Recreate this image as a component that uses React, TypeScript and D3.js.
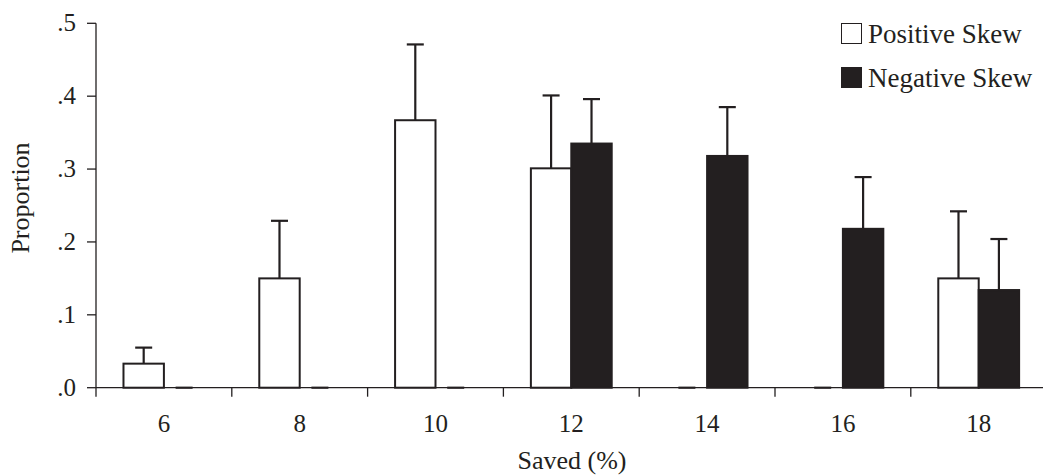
import React, { useEffect, useRef } from "react";
import * as d3 from "d3";

const categories = ["6", "8", "10", "12", "14", "16", "18"];
const seriesNames = ["Positive Skew", "Negative Skew"];
const positiveSkew = [0.033, 0.15, 0.367, 0.301, 0, 0, 0.15];
const positiveErr = [0.022, 0.079, 0.104, 0.1, 0, 0, 0.092];
const negativeSkew = [0, 0, 0, 0.335, 0.318, 0.218, 0.134];
const negativeErr = [0, 0, 0, 0.061, 0.067, 0.071, 0.07];
const yTicks = [0, 0.1, 0.2, 0.3, 0.4, 0.5];

const ink = "#231f20";
const font = "'Liberation Serif', 'Times New Roman', serif";

const App = () => {
  const svgRef = useRef<SVGSVGElement>(null);

  useEffect(() => {
    const svg = d3.select(svgRef.current);

    const left = 96;
    const bandW = 135.8;

    // scales
    const x0 = d3
      .scaleBand()
      .domain(categories)
      .range([left, left + bandW * categories.length])
      .padding(0);

    const x1 = d3
      .scaleBand()
      .domain(seriesNames)
      .range([0, x0.bandwidth()])
      .paddingInner(0)
      .paddingOuter(0.68);

    const y = d3.scaleLinear().domain([0, 0.5]).range([387.7, 23.3]);

    const rows = categories.map((c, i) => [
      { cat: c, key: seriesNames[0], value: positiveSkew[i], err: positiveErr[i] },
      { cat: c, key: seriesNames[1], value: negativeSkew[i], err: negativeErr[i] },
    ]);

    const g = svg.append("g");

    // bars
    const groups = g
      .selectAll("g.cat")
      .data(rows)
      .enter()
      .append("g")
      .attr("class", "cat")
      .attr("transform", (d) => `translate(${x0(d[0].cat)},0)`);

    groups
      .selectAll("rect")
      .data((d) => d.filter((v) => v.value > 0))
      .enter()
      .append("rect")
      .attr("x", (d) => x1(d.key)!)
      .attr("y", (d) => y(d.value))
      .attr("width", x1.bandwidth())
      .attr("height", (d) => y(0) - y(d.value))
      .attr("fill", (d) => (d.key === seriesNames[0] ? "#fff" : ink))
      .attr("stroke", ink)
      .attr("stroke-width", 2);

    // error bars
    const capW = 17;
    const eb = groups.selectAll("g.err").data((d) => d).enter().append("g").attr("class", "err");
    eb.filter((d) => d.err > 0)
      .append("line")
      .attr("x1", (d) => x1(d.key)! + x1.bandwidth() / 2)
      .attr("x2", (d) => x1(d.key)! + x1.bandwidth() / 2)
      .attr("y1", (d) => y(d.value))
      .attr("y2", (d) => y(d.value + d.err))
      .attr("stroke", ink)
      .attr("stroke-width", 2.2);
    eb.append("line")
      .attr("x1", (d) => x1(d.key)! + x1.bandwidth() / 2 - capW / 2)
      .attr("x2", (d) => x1(d.key)! + x1.bandwidth() / 2 + capW / 2)
      .attr("y1", (d) => y(d.value + d.err))
      .attr("y2", (d) => y(d.value + d.err))
      .attr("stroke", ink)
      .attr("stroke-width", 2.2);

    // x axis
    const xa = g.append("g");
    xa.append("line")
      .attr("x1", left)
      .attr("x2", 1043)
      .attr("y1", y(0))
      .attr("y2", y(0))
      .attr("stroke", ink)
      .attr("stroke-width", 1.3);
    xa.selectAll("line.tick")
      .data(categories)
      .enter()
      .append("line")
      .attr("class", "tick")
      .attr("x1", (d) => x0(d)!)
      .attr("x2", (d) => x0(d)!)
      .attr("y1", y(0))
      .attr("y2", y(0) + 9)
      .attr("stroke", ink)
      .attr("stroke-width", 1.3);
    xa.selectAll("text")
      .data(categories)
      .enter()
      .append("text")
      .attr("x", (d) => x0(d)! + x0.bandwidth() / 2)
      .attr("y", 432)
      .attr("text-anchor", "middle")
      .attr("font-family", font)
      .attr("font-size", 25)
      .attr("fill", ink)
      .text((d) => d);

    // y axis
    const ya = g.append("g");
    ya.append("line")
      .attr("x1", left)
      .attr("x2", left)
      .attr("y1", y(0.5))
      .attr("y2", y(0))
      .attr("stroke", ink)
      .attr("stroke-width", 1.3);
    ya.selectAll("line.tick")
      .data(yTicks)
      .enter()
      .append("line")
      .attr("class", "tick")
      .attr("x1", left - 9)
      .attr("x2", left)
      .attr("y1", (d) => y(d))
      .attr("y2", (d) => y(d))
      .attr("stroke", ink)
      .attr("stroke-width", 1.3);
    ya.selectAll("text")
      .data(yTicks)
      .enter()
      .append("text")
      .attr("x", 76)
      .attr("y", (d) => y(d) + 8)
      .attr("text-anchor", "end")
      .attr("font-family", font)
      .attr("font-size", 25)
      .attr("fill", ink)
      .text((d) => d3.format(".1f")(d).replace(/^0/, ""));

    // axis titles
    g.append("text")
      .attr("x", 572)
      .attr("y", 469)
      .attr("text-anchor", "middle")
      .attr("font-family", font)
      .attr("font-size", 26)
      .attr("fill", ink)
      .text("Saved (%)");
    g.append("text")
      .attr("transform", "translate(29,198) rotate(-90)")
      .attr("text-anchor", "middle")
      .attr("font-family", font)
      .attr("font-size", 26)
      .attr("fill", ink)
      .text("Proportion");

    // legend
    const lg = g
      .selectAll("g.legend")
      .data(seriesNames)
      .enter()
      .append("g")
      .attr("class", "legend")
      .attr("transform", (d, i) => `translate(841,${23 + i * 44})`);
    lg.append("rect")
      .attr("x", 0.5)
      .attr("y", 0.5)
      .attr("width", 20)
      .attr("height", 20)
      .attr("fill", (d, i) => (i === 0 ? "#fff" : ink))
      .attr("stroke", ink)
      .attr("stroke-width", 1);
    lg.append("text")
      .attr("x", 27)
      .attr("y", 20)
      .attr("font-family", font)
      .attr("font-size", 27)
      .attr("fill", ink)
      .text((d) => d);

    return () => {
      svg.selectAll("*").remove();
    };
  }, []);

  return (
    <svg
      ref={svgRef}
      width={1043}
      height={476}
      style={{ position: "absolute", left: 0, top: 0, background: "#fff" }}
    />
  );
};

export default App;
